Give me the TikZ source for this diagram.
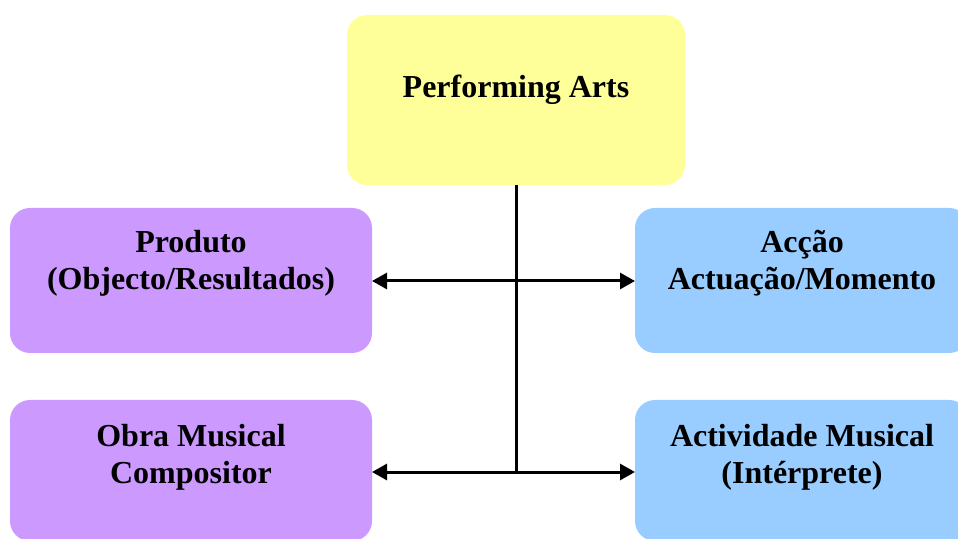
\documentclass[tikz,border=0pt]{standalone}
\usepackage{fontspec}
\setmainfont{Liberation Serif}
\usetikzlibrary{arrows.meta}
\definecolor{ylw}{HTML}{FFFF99}
\definecolor{prp}{HTML}{CC99FF}
\definecolor{blu}{HTML}{99CCFF}
\begin{document}
\begin{tikzpicture}[x=0.5pt,y=-0.5pt,
  box/.style={draw=none, rounded corners=10pt, inner sep=0, outer sep=0},
  lbl/.style={anchor=north, inner sep=0, align=center, font=\bfseries\fontsize{16}{18.5}\selectfont},
  conn/.style={line width=1.5pt},
  arr/.style={conn, -{Triangle[length=7.5pt,width=8pt]}}]
\useasboundingbox (0,0) rectangle (958,539);
% boxes
\node[box, fill=ylw, minimum width=169pt, minimum height=85pt] (top) at (516,100) {};
\node[box, fill=prp, minimum width=181pt, minimum height=72.5pt] (L1) at (191,280.5) {};
\node[box, fill=prp, minimum width=181pt, minimum height=70.5pt] (L2) at (191,470.5) {};
\node[box, fill=blu, minimum width=167pt, minimum height=72.5pt] (R1) at (802,280.5) {};
\node[box, fill=blu, minimum width=167pt, minimum height=70.5pt] (R2) at (802,470.5) {};
% labels
\node[lbl] (tPA) at (516,73) {\rule{0pt}{12pt}Performing Arts};
\node[lbl] (tL1) at (191,228) {\rule{0pt}{12pt}Produto\\(Objecto/Resultados)};
\node[lbl] (tL2) at (191,422) {\rule{0pt}{12pt}Obra Musical\\Compositor};
\node[lbl] (tR1) at (802,228) {\rule{0pt}{12pt}Acção\\Actuação/Momento};
\node[lbl] (tR2) at (802,422) {\rule{0pt}{12pt}Actividade Musical\\(Intérprete)};
% connectors
\coordinate (j1) at (516,281);
\coordinate (j2) at (516,472);
\draw[conn] (top.south) -- (j2);
\draw[arr] (j1) -- (L1.east |- j1);
\draw[arr] (j1) -- (R1.west |- j1);
\draw[arr] (j2) -- (L2.east |- j2);
\draw[arr] (j2) -- (R2.west |- j2);
\end{tikzpicture}
\end{document}
